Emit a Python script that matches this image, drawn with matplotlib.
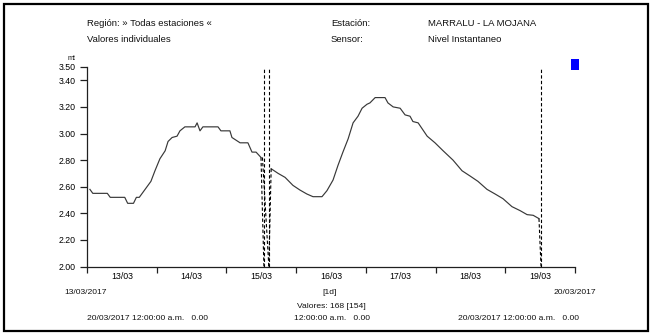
import matplotlib
matplotlib.use("Agg")
import matplotlib.pyplot as plt
from matplotlib.patches import Rectangle

plt.rcParams['font.family'] = ['Liberation Sans', 'DejaVu Sans']

# hours since 13/03/2017 00:00 and water level (mt)
hours_a = [1, 2, 7, 8, 13, 14, 16, 17, 18, 20, 22, 23.4, 25.1, 26.9, 27.9, 29.3, 31, 32,
           33.7, 37.2, 37.9, 38.9, 39.9, 45.1, 46.1, 49.2, 49.9, 52.7, 55.4, 56.8, 58.2, 59.9]
level_a = [2.58, 2.55, 2.55, 2.52, 2.52, 2.475, 2.475, 2.52, 2.52, 2.58, 2.64, 2.72, 2.81, 2.87,
           2.94, 2.97, 2.98, 3.02, 3.05, 3.05, 3.08, 3.02, 3.05, 3.05, 3.02, 3.02, 2.97, 2.93,
           2.93, 2.86, 2.86, 2.82]
hours_b = [63.4, 65.8, 68.2, 70.9, 73.3, 75.7, 77.8, 80.9, 82.6, 84.7, 86.4, 88.1, 89.9, 91.6,
           93.3, 94.7, 96.4, 97.4, 99.2, 102.6, 103.6, 105.4, 107.8, 109.5, 111.2, 112.2, 114,
           117.1, 119.8, 122.6, 126, 129.1, 131.9, 134.6, 137.7, 140.5, 143.2, 146.3, 149.1,
           151.5, 153.6, 155.6]
level_b = [2.735, 2.70, 2.67, 2.61, 2.575, 2.545, 2.525, 2.525, 2.57, 2.65, 2.76, 2.86, 2.96,
           3.08, 3.13, 3.19, 3.22, 3.23, 3.27, 3.27, 3.23, 3.20, 3.19, 3.14, 3.13, 3.09, 3.08,
           2.98, 2.93, 2.87, 2.80, 2.72, 2.68, 2.64, 2.58, 2.545, 2.51, 2.45, 2.42, 2.39,
           2.385, 2.36]
gap_hours = [60.9, 62.6, 156.3]

y_ticks = [2.00, 2.20, 2.40, 2.60, 2.80, 3.00, 3.20, 3.40, 3.50]
day_labels = ['13/03', '14/03', '15/03', '16/03', '17/03', '18/03', '19/03']

W, H = 651, 335
fig = plt.figure(figsize=(W / 100, H / 100), dpi=100)
fig.patch.set_facecolor('white')

L, R, B, T = 87, 575, 266.5, 67
ax = fig.add_axes([L / W, (H - B) / H, (R - L) / W, (B - T) / H])
ax.set_xlim(0, 168)
ax.set_ylim(2.0, 3.5)

line_c = '#383838'
ax.plot(hours_a, level_a, color=line_c, lw=0.85)
ax.plot(hours_b, level_b, color=line_c, lw=0.85)

dash = dict(color='black', lw=0.8, ls=(0, (3, 2)))
for g in gap_hours:
    ax.plot([g, g], [2.0, 3.5], **dash)
ax.plot([hours_a[-1], gap_hours[0]], [level_a[-1], 2.0], **dash)
ax.plot([hours_b[0], gap_hours[1]], [level_b[0], 2.0], **dash)
ax.plot([hours_a[-1] + 0.5, gap_hours[1]], [level_a[-1], 2.0], **dash)
ax.plot([hours_b[-1], gap_hours[2]], [level_b[-1], 2.0], **dash)

for s in ['top', 'right']:
    ax.spines[s].set_visible(False)
for s in ['left', 'bottom']:
    ax.spines[s].set_color('#202020')
    ax.spines[s].set_linewidth(0.9)

tfs = 6.3
ax.set_yticks(y_ticks)
ax.set_yticklabels([f'{v:.2f}' for v in y_ticks], fontsize=tfs)
ax.set_xticks([24 * i for i in range(8)])
ax.set_xticklabels([])
ax.set_xticks([24 * i + 12 for i in range(7)], minor=True)
ax.set_xticklabels(day_labels, minor=True, fontsize=tfs)
ax.tick_params(axis='x', which='major', direction='out', length=4, width=0.9, color='#202020')
ax.tick_params(axis='x', which='minor', length=0, pad=4)
ax.tick_params(axis='y', direction='out', length=5, width=0.9, color='#202020', pad=3)
ax.set_facecolor('white')

def txt(x, y, s, ha='left', fs=6.8):
    fig.text(x / W, 1 - y / H, s, fontsize=fs, ha=ha, va='center', color='#111')

txt(87, 24, 'Región: » Todas estaciones «')
txt(87, 39, 'Valores individuales')
txt(331, 24, 'Estación:')
txt(331, 39, 'Sensor:')
txt(428, 24, 'MARRALU - LA MOJANA')
txt(428, 39, 'Nivel Instantaneo')
txt(72, 58, 'mt', ha='center', fs=5.2)
bfs = 6.1
txt(86, 293, '13/03/2017', ha='center', fs=bfs)
txt(575, 293, '20/03/2017', ha='center', fs=bfs)
txt(330, 292, '[1d]', ha='center', fs=bfs)
txt(331, 306, 'Valores: 168 [154]', ha='center', fs=bfs)
txt(87, 319, '20/03/2017 12:00:00 a.m.   0.00', fs=bfs)
txt(294, 319, '12:00:00 a.m.   0.00', fs=bfs)
txt(458, 319, '20/03/2017 12:00:00 a.m.   0.00', fs=bfs)

fig.patches.append(Rectangle((571 / W, 1 - 70 / H), 8 / W, 11 / H, transform=fig.transFigure,
                             facecolor='#0000ff', edgecolor='none'))
fig.patches.append(Rectangle((4 / W, 1 - 331 / H), 644 / W, 327 / H, transform=fig.transFigure,
                             facecolor='none', edgecolor='black', lw=1.6))

fig.savefig('out.png', dpi=100)
